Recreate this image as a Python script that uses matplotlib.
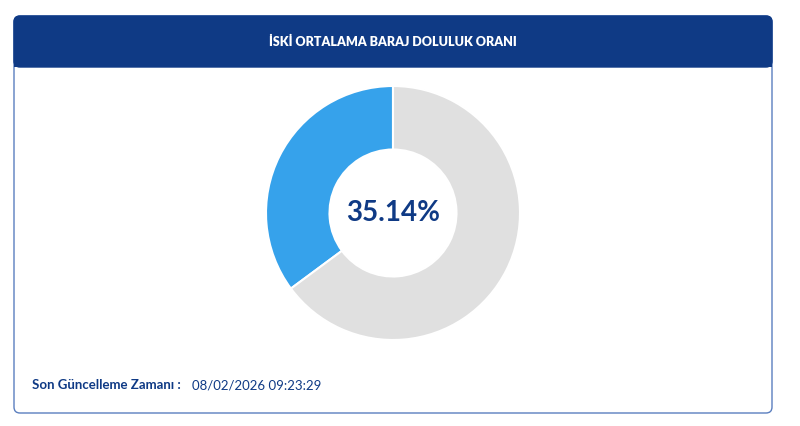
import matplotlib
matplotlib.use("Agg")
import matplotlib.pyplot as plt
from matplotlib.patches import FancyBboxPatch, Rectangle

title = "İSKİ ORTALAMA BARAJ DOLULUK ORANI"
fill_pct = 35.14
values = [fill_pct, 100 - fill_pct]
colors = ["#36a2eb", "#e0e0e0"]
footer_label = "Son Güncelleme Zamanı :"
footer_time = "08/02/2026 09:23:29"

W, H = 800, 426
fig = plt.figure(figsize=(W/100, H/100), dpi=100)
bg = fig.add_axes([0, 0, 1, 1])
bg.set_xlim(0, W); bg.set_ylim(H, 0); bg.axis("off")
navy = "#0f3a85"
bg.add_patch(FancyBboxPatch((14, 16), 758, 397, boxstyle="round,pad=0,rounding_size=6",
                            fc="white", ec="#5b7fbf", lw=1))
bg.add_patch(FancyBboxPatch((14, 16), 758, 51, boxstyle="round,pad=0,rounding_size=6",
                            fc=navy, ec=navy, lw=1))
bg.add_patch(Rectangle((14, 55), 758, 12, fc=navy, ec="none"))
bg.text(393, 42, title, color="white", ha="center", va="center",
        fontsize=9, fontweight="heavy", family="Lato")
bg.text(32, 385, footer_label, color=navy, ha="left", va="center",
        fontsize=9.5, fontweight="bold", family="Lato")
bg.text(192, 385, footer_time, color=navy, ha="left", va="center",
        fontsize=9.5, family="Lato")

r = 127
ax = fig.add_axes([(393 - r)/W, 1 - (213 + r)/H, 2*r/W, 2*r/H])
ax.pie(values, colors=colors, startangle=90, counterclock=True, radius=1,
       wedgeprops=dict(width=0.5, edgecolor="white", linewidth=1.5))
ax.set_xlim(-1, 1); ax.set_ylim(-1, 1)
ax.set_aspect("equal")
ax.text(0, 0, f"{fill_pct:.2f}%", ha="center", va="center", color=navy,
        fontsize=20, fontweight="bold", family="Lato")
fig.savefig("out.png", dpi=100)
